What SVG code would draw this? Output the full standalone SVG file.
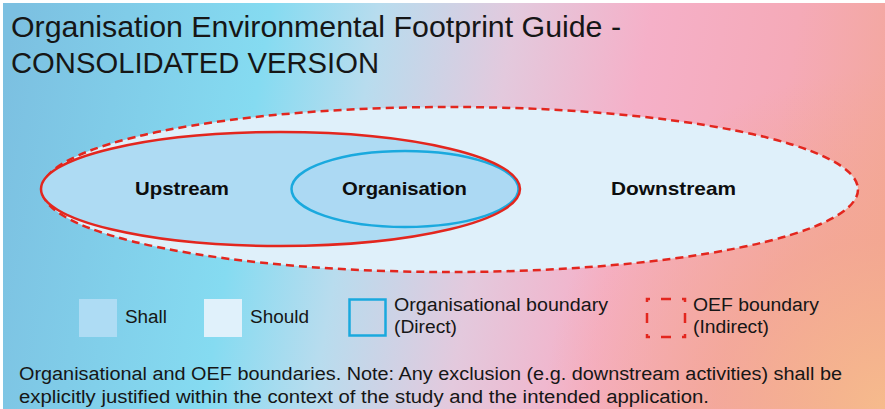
<svg xmlns="http://www.w3.org/2000/svg" width="885" height="409" viewBox="0 0 885 409">
<defs>
<linearGradient id="bg" gradientUnits="userSpaceOnUse" x1="0" y1="100" x2="885" y2="250">
<stop offset="0" stop-color="#7cc0e1"/>
<stop offset="0.28" stop-color="#85dbf1"/>
<stop offset="0.4" stop-color="#b8dcee"/>
<stop offset="0.55" stop-color="#e3c9dd"/>
<stop offset="0.7" stop-color="#f5b0c8"/>
<stop offset="0.86" stop-color="#f5aab8"/>
<stop offset="1" stop-color="#f3a79a"/>
</linearGradient>
<radialGradient id="peach" gradientUnits="userSpaceOnUse" cx="885" cy="409" r="340">
<stop offset="0" stop-color="#f6bb8c" stop-opacity="1"/>
<stop offset="0.5" stop-color="#f3a78e" stop-opacity="0.7"/>
<stop offset="1" stop-color="#f3a78e" stop-opacity="0"/>
</radialGradient>
<style>
.t{font-family:"Liberation Sans",Arial,sans-serif;fill:#161616;}
.title{font-size:30px;}
.leg{font-size:18px;}
.cap{font-size:18px;}
.lbl{font-family:"Liberation Sans",Arial,sans-serif;font-weight:bold;font-size:19px;fill:#0d0d0d;text-anchor:middle;}
.red{fill:none;stroke:#e3261e;stroke-width:2.5;}
.blue{stroke:#1aa9de;stroke-width:2.5;}
</style>
</defs>
<rect x="0" y="0" width="885" height="409" fill="#ffffff"/>
<rect x="3" y="3" width="882" height="406" fill="url(#bg)"/>
<rect x="3" y="3" width="882" height="406" fill="url(#peach)"/>

<g id="title">
<text class="t title" x="11" y="37" textLength="610" lengthAdjust="spacingAndGlyphs">Organisation Environmental Footprint Guide -</text>
<text class="t title" x="11" y="73" textLength="368" lengthAdjust="spacingAndGlyphs">CONSOLIDATED VERSION</text>
</g>

<g id="oef-boundary">
<ellipse cx="450" cy="189.5" rx="408" ry="82.5" fill="#dff0fa"/>
<ellipse cx="450" cy="189.5" rx="408" ry="82.5" class="red" stroke-dasharray="8 5"/>
</g>
<g id="shall-region">
<ellipse cx="280.5" cy="189" rx="239.5" ry="57" fill="#aedbf3"/>
</g>
<g id="organisation">
<ellipse cx="405" cy="189" rx="113.5" ry="38" fill="#acd9f3" class="blue"/>
</g>
<g id="upstream-boundary">
<ellipse cx="280.5" cy="189" rx="239.5" ry="57" class="red"/>
</g>
<g id="labels">
<text class="lbl" x="182" y="195" textLength="94" lengthAdjust="spacingAndGlyphs">Upstream</text>
<text class="lbl" x="404.5" y="195" textLength="125" lengthAdjust="spacingAndGlyphs">Organisation</text>
<text class="lbl" x="673.5" y="195" textLength="125" lengthAdjust="spacingAndGlyphs">Downstream</text>
</g>

<g id="legend">
<g id="legend-shall">
<rect x="79" y="299" width="38" height="38" fill="#aedcf4"/>
<text class="t leg" x="125" y="323" textLength="42" lengthAdjust="spacingAndGlyphs">Shall</text>
</g>
<g id="legend-should">
<rect x="204" y="299" width="38" height="38" fill="#e0f1fb"/>
<text class="t leg" x="250" y="323" textLength="59" lengthAdjust="spacingAndGlyphs">Should</text>
</g>
<g id="legend-org">
<rect x="349.5" y="299.5" width="36" height="36" fill="none" class="blue"/>
<text class="t leg" x="394" y="311" textLength="214" lengthAdjust="spacingAndGlyphs">Organisational boundary</text>
<text class="t leg" x="394" y="333" textLength="63" lengthAdjust="spacingAndGlyphs">(Direct)</text>
</g>
<g id="legend-oef">
<rect x="647" y="299" width="38" height="38" class="red" stroke-dasharray="6 11 10 11" stroke-dashoffset="3"/>
<text class="t leg" x="693" y="311" textLength="126" lengthAdjust="spacingAndGlyphs">OEF boundary</text>
<text class="t leg" x="693" y="333" textLength="76" lengthAdjust="spacingAndGlyphs">(Indirect)</text>
</g>
</g>

<g id="caption">
<text class="t cap" x="19" y="380" textLength="823" lengthAdjust="spacingAndGlyphs">Organisational and OEF boundaries. Note: Any exclusion (e.g. downstream activities) shall be</text>
<text class="t cap" x="19" y="403" textLength="690" lengthAdjust="spacingAndGlyphs">explicitly justified within the context of the study and the intended application.</text>
</g>
</svg>
